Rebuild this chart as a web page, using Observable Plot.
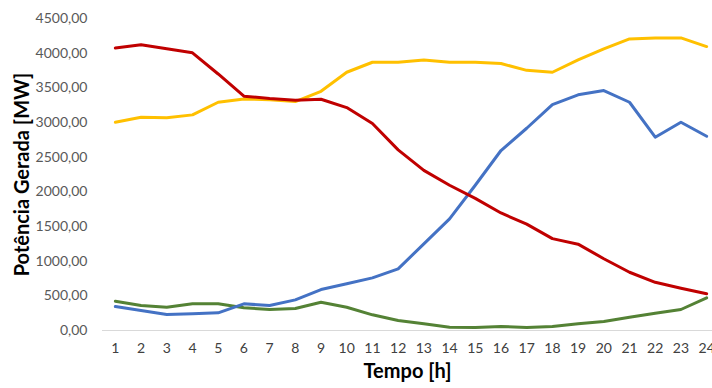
<!DOCTYPE html>
<html>
<head>
<meta charset="utf-8">
<script src="https://cdn.jsdelivr.net/npm/d3@7"></script>
<script src="https://cdn.jsdelivr.net/npm/@observablehq/plot@0.6"></script>
<style>
  html, body { margin: 0; padding: 0; background: #fff; }
  #chart svg { display: block; }
</style>
</head>
<body>
<div id="chart"></div>
<script>
const hours = [1,2,3,4,5,6,7,8,9,10,11,12,13,14,15,16,17,18,19,20,21,22,23,24];
const redSeries    = [4075,4120,4065,4005,3700,3380,3345,3320,3335,3215,2985,2605,2310,2095,1905,1695,1535,1325,1245,1035,840,695,610,530];
const yellowSeries = [3005,3075,3067,3110,3292,3340,3327,3302,3450,3725,3869,3869,3903,3869,3869,3850,3752,3725,3903,4062,4206,4220,4220,4095];
const blueSeries   = [346,288,231,240,255,385,360,442,591,673,759,889,1250,1610,2095,2596,2917,3259,3399,3461,3292,2788,3004,2802];
const greenSeries  = [423,360,336,385,385,327,303,317,408,336,226,144,96,48,45,58,45,58,96,130,192,250,303,471];
const yTicks = [0,500,1000,1500,2000,2500,3000,3500,4000,4500];
const seriesColors = {red: "#C00000", yellow: "#FFC000", blue: "#4472C4", green: "#548235"};

const rows = [];
const add = (name, vals) => vals.forEach((v, i) => rows.push({series: name, hour: hours[i], value: v}));
add("green", greenSeries);
add("blue", blueSeries);
add("yellow", yellowSeries);
add("red", redSeries);

const fmt = v => d3.format(".2f")(v).replace(".", ",");

const chart = Plot.plot({
  width: 712,
  height: 388,
  marginLeft: 102,
  marginRight: 0,
  marginTop: 18,
  marginBottom: 58,
  style: {fontFamily: "Lato, 'Open Sans', sans-serif", background: "#fff"},
  x: {domain: [0.5, 24.5], range: [102, 719]},
  y: {domain: [0, 4500], range: [330, 18]},
  marks: [
    Plot.ruleY([0], {stroke: "#D9D9D9", strokeWidth: 1}),
    Plot.axisY({ticks: yTicks, tickFormat: fmt, tickSize: 0, tickPadding: 15, fontSize: 14, fill: "#595959",
      label: "Potência Gerada [MW]", labelAnchor: "center", labelArrow: "none", labelOffset: 88}),
    Plot.axisX({ticks: hours, tickFormat: d => String(d), tickSize: 0, tickPadding: 13, fontSize: 14, fill: "#404040",
      label: "Tempo [h]", labelAnchor: "center", labelArrow: "none", labelOffset: 47}),
    Plot.line(rows, {x: "hour", y: "value", z: "series", stroke: d => seriesColors[d.series], strokeWidth: 3, strokeLinejoin: "round"})
  ]
});
document.getElementById("chart").appendChild(chart);
chart.querySelectorAll("g[aria-label='x-axis label'] text, g[aria-label='y-axis label'] text").forEach(t => {
  t.setAttribute("font-weight", "bold");
  t.setAttribute("font-size", "20");
  t.setAttribute("fill", "#000");
});
</script>
</body>
</html>
